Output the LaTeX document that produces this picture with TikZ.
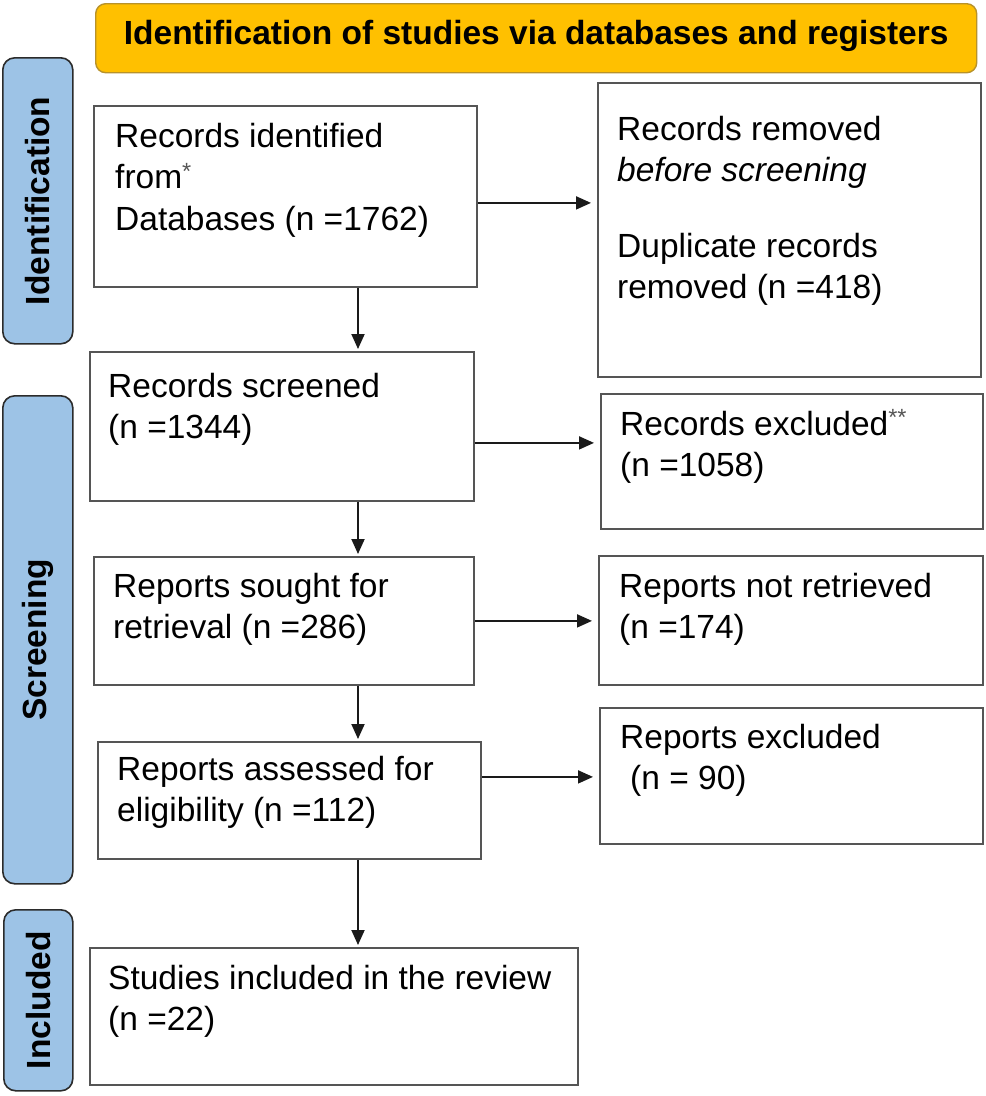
\documentclass[tikz,border=0pt]{standalone}
\usepackage{fontspec}
\setmainfont{Liberation Sans}
\usetikzlibrary{arrows.meta}
\definecolor{hdr}{HTML}{FFC000}
\definecolor{hdrd}{HTML}{B8922A}
\definecolor{side}{HTML}{9DC3E6}
\definecolor{sided}{HTML}{2B2B2B}
\definecolor{bord}{HTML}{555555}
\definecolor{arrc}{HTML}{1A1A1A}
\definecolor{astc}{HTML}{555555}
\tikzset{
  pbox/.style={draw=bord, line width=1.8pt, fill=white, anchor=north west, inner sep=0pt},
  sidebar/.style={draw=sided, line width=1.6pt, fill=side, rounded corners=12pt, anchor=north west, inner sep=0pt},
  banner/.style={draw=hdrd, line width=1.4pt, fill=hdr, rounded corners=10pt, anchor=north west, inner sep=0pt},
  txt/.style={anchor=base west, inner sep=0pt, font=\fontsize{33.5}{41.5}\selectfont},
  sidetxt/.style={rotate=90, inner sep=0pt, font=\fontsize{33.5}{40}\selectfont\bfseries},
  hdrtxt/.style={inner sep=0pt, font=\fontsize{33.5}{40}\selectfont\bfseries},
  arr/.style={draw=arrc, line width=1.9pt, -{Triangle[length=15pt,width=13pt]}},
}
\newcommand\mkbox[6]{\node[#1, minimum width={#5-#3}, minimum height={#6-#4}] (#2) at (#3,#4) {};}
\newcommand\lns[1]{\begin{tabular}[t]{@{}l@{}}#1\end{tabular}}
\newcommand\astmark[1]{\textsuperscript{\textcolor{astc}{#1}}}
\begin{document}
\begin{tikzpicture}[x=1pt,y=-1pt]
\useasboundingbox[fill=white] (0,0) rectangle (986,1096);
% banner and side bars
\mkbox{banner}{ban}{95}{3}{976}{72}
\node[hdrtxt, yshift=2pt] (bant) at (ban.center) {Identification of studies via databases and registers};
\mkbox{sidebar}{sid}{2}{57}{72}{343}
\mkbox{sidebar}{sscr}{2}{395}{72}{883}
\mkbox{sidebar}{sinc}{3}{909}{72}{1090}
\node[sidetxt] (sidt) at (sid.center) {Identification};
\node[sidetxt] (sscrt) at (sscr.center) {Screening};
\node[sidetxt] (sinct) at (sinc.center) {Included};
% main boxes
\mkbox{pbox}{b1}{93}{105}{476}{286}
\mkbox{pbox}{rem}{597}{82}{980}{376}
\mkbox{pbox}{b2}{89}{351}{473}{500}
\mkbox{pbox}{exc}{600}{393}{982}{528}
\mkbox{pbox}{b3}{93}{556}{473}{684}
\mkbox{pbox}{nret}{598}{555}{982}{684}
\mkbox{pbox}{b4}{97}{741}{480}{858}
\mkbox{pbox}{rexc}{599}{707}{982}{843}
\mkbox{pbox}{b5}{89}{947}{577}{1084}
% texts
\node[txt] (t1) at (115,147) {\lns{Records identified\\from\astmark{*}\\Databases (n =1762)}};
\node[txt] (trem) at (617,140) {\lns{Records removed\\\textit{before screening}\\[34pt]Duplicate records\\removed (n =418)}};
\node[txt] (t2) at (108,397) {\lns{Records screened\\(n =1344)}};
\node[txt] (texc) at (620,435) {\lns{Records excluded\astmark{**}\\(n =1058)}};
\node[txt] (t3) at (113,597) {\lns{Reports sought for\\retrieval (n =286)}};
\node[txt] (tnret) at (619,597) {\lns{Reports not retrieved\\(n =174)}};
\node[txt] (t4) at (117,780) {\lns{Reports assessed for\\eligibility (n =112)}};
\node[txt] (trexc) at (620,748) {\lns{Reports excluded\\\hspace{10pt}(n = 90)}};
\node[txt] (t5) at (108,989) {\lns{Studies included in the review\\(n =22)}};
% connectors
\coordinate (ax) at (358,0);
\draw[arr, shorten >=2pt] (b1.south -| ax) -- (b2.north -| ax);
\draw[arr, shorten >=2pt] (b2.south -| ax) -- (b3.north -| ax);
\draw[arr, shorten >=2pt] (b3.south -| ax) -- (b4.north -| ax);
\draw[arr, shorten >=2pt] (b4.south -| ax) -- (b5.north -| ax);
\draw[arr, shorten >=6pt] ([yshift=-6.5pt]b1.east) coordinate (h1) -- (rem.west |- h1);
\draw[arr, shorten >=6pt] ([yshift=-16.5pt]b2.east) coordinate (h2) -- (exc.west |- h2);
\draw[arr, shorten >=6pt] (b3.east) coordinate (h3) -- (nret.west |- h3);
\draw[arr, shorten >=6pt] ([yshift=23.5pt]b4.east) coordinate (h4) -- (rexc.west |- h4);
\end{tikzpicture}
\end{document}
